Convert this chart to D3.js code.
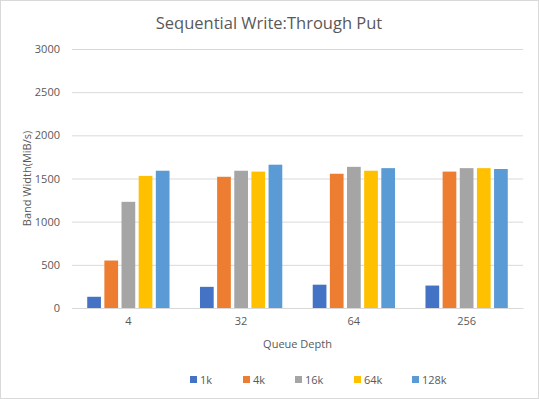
<!DOCTYPE html>
<html>
<head>
<meta charset="utf-8">
<script src="https://cdn.jsdelivr.net/npm/d3@7"></script>
<style>
  body { margin: 0; background: #fff; }
  svg text { font-family: "Open Sans", sans-serif; fill: #595959; }
</style>
</head>
<body>
<div id="chart"></div>
<script>
const categories = ["4", "32", "64", "256"];
const seriesNames = ["1k", "4k", "16k", "64k", "128k"];
const values1k = [130, 245, 270, 260];
const values4k = [550, 1520, 1555, 1580];
const values16k = [1230, 1590, 1635, 1620];
const values64k = [1530, 1580, 1590, 1620];
const values128k = [1590, 1660, 1620, 1610];
const yTicks = [0, 500, 1000, 1500, 2000, 2500, 3000];
const colors = ["#4472C4", "#ED7D31", "#A5A5A5", "#FFC000", "#5B9BD5"];

const seriesValues = [values1k, values4k, values16k, values64k, values128k];
const rows = categories.map((c, i) => ({
    cat: c,
    vals: seriesNames.map((s, j) => ({ key: s, value: seriesValues[j][i] }))
}));

const width = 539, height = 399;
const plot = { left: 72, right: 523, top: 49, bottom: 308 };

const svg = d3.select("#chart").append("svg")
    .attr("width", width)
    .attr("height", height);

// chart border
svg.append("rect")
    .attr("x", 0.5).attr("y", 0.5)
    .attr("width", width - 1).attr("height", height - 1)
    .attr("fill", "#fff")
    .attr("stroke", "#d9d9d9");

const x0 = d3.scaleBand()
    .domain(categories)
    .range([plot.left, plot.right])
    .paddingInner(0.27)
    .paddingOuter(0.135);

const x1 = d3.scaleBand()
    .domain(seriesNames)
    .range([0, x0.bandwidth()])
    .paddingInner(0.2);

const y = d3.scaleLinear()
    .domain([0, 3000])
    .range([plot.bottom, plot.top]);

const color = d3.scaleOrdinal().domain(seriesNames).range(colors);

// gridlines + y labels
const yAxis = svg.append("g")
    .attr("transform", `translate(${plot.left},0)`)
    .call(d3.axisLeft(y).tickValues(yTicks).tickFormat(d3.format("d"))
        .tickSize(-(plot.right - plot.left)).tickPadding(12));
yAxis.select(".domain").remove();
yAxis.selectAll(".tick line").attr("stroke", "#d9d9d9").attr("stroke-width", 1);
yAxis.selectAll(".tick text").style("font-size", "11px");

// bars
svg.append("g")
    .selectAll("g")
    .data(rows)
    .join("g")
    .attr("transform", d => `translate(${x0(d.cat)},0)`)
    .selectAll("rect")
    .data(d => d.vals)
    .join("rect")
    .attr("x", d => x1(d.key))
    .attr("y", d => y(d.value))
    .attr("width", x1.bandwidth())
    .attr("height", d => y(0) - y(d.value))
    .attr("fill", d => color(d.key));

// x axis
const xAxis = svg.append("g")
    .attr("transform", `translate(0,${plot.bottom})`)
    .call(d3.axisBottom(x0).tickSize(0).tickPadding(9));
xAxis.select(".domain").attr("stroke", "#d9d9d9");
xAxis.selectAll(".tick text").style("font-size", "11px");

// titles
svg.append("text")
    .attr("x", 269).attr("y", 29)
    .attr("text-anchor", "middle")
    .style("font-size", "16.5px")
    .text("Sequential Write:Through Put");

svg.append("text")
    .attr("x", (plot.left + plot.right) / 2).attr("y", 348)
    .attr("text-anchor", "middle")
    .style("font-size", "11px")
    .text("Queue Depth");

svg.append("text")
    .attr("transform", `translate(31,${(plot.top + plot.bottom) / 2}) rotate(-90)`)
    .attr("text-anchor", "middle")
    .style("font-size", "11px")
    .text("Band Width(MiB/s)");

// legend
const legendX = [190, 243, 295, 354, 412];
const legend = svg.append("g")
    .selectAll("g")
    .data(seriesNames)
    .join("g")
    .attr("transform", (d, i) => `translate(${legendX[i]},376)`);
legend.append("rect")
    .attr("width", 7).attr("height", 7)
    .attr("fill", d => color(d));
legend.append("text")
    .attr("x", 10).attr("y", 7.5)
    .style("font-size", "11px")
    .text(d => d);
</script>
</body>
</html>
